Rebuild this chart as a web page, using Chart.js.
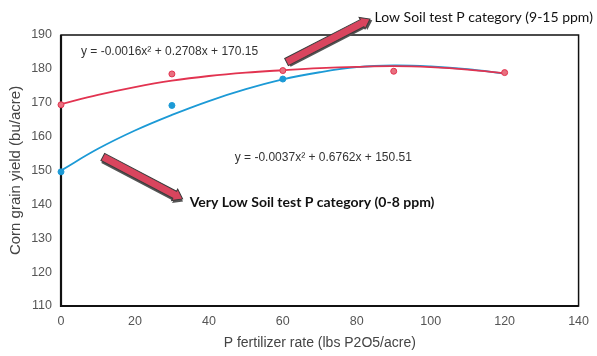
<!DOCTYPE html>
<html><head><meta charset="utf-8">
<script src="https://cdn.jsdelivr.net/npm/chart.js@4/dist/chart.umd.min.js"></script>
<style>html,body{margin:0;padding:0;background:#fff}#wrap{width:597px;height:356px}</style>
</head><body><div id="wrap"><canvas id="c" width="597" height="356"></canvas></div>
<script>
const pointRates = [0, 30, 60, 90, 120];
const lowPoints = [169.4, 178.5, 179.5, 179.3, 178.9];
const veryLowRates = [0, 30, 60];
const veryLowPoints = [149.6, 169.2, 177.0];
const trendRates = [0, 10, 20, 30, 40, 50, 60, 70, 80, 90, 100, 110, 120];
const lowTrend = [169.6, 172.3, 174.6, 176.5, 177.9, 178.9, 179.6, 180.2, 180.6, 180.8, 180.5, 179.8, 178.7];
const veryLowTrend = [150.0, 156.4, 161.8, 166.4, 170.5, 174.0, 176.9, 179.0, 180.5, 181.0, 180.7, 179.9, 178.6];
const xTicks = [0, 20, 40, 60, 80, 100, 120, 140];
const yTicks = [110, 120, 130, 140, 150, 160, 170, 180, 190];
const eqLow = 'y = -0.0016x² + 0.2708x + 170.15';
const eqVeryLow = 'y = -0.0037x² + 0.6762x + 150.51';
const labelLow = 'Low Soil test P category (9-15 ppm)';
const labelVeryLow = 'Very Low Soil test P category (0-8 ppm)';

const RED = '#e23350', RED_PT = '#e8707f', BLUE = '#1c9ad6';
const pts = (xs, ys) => xs.map((x, i) => ({x, y: ys[i]}));

function drawArrow(ctx, x1, y1, x2, y2) {
  const ang = Math.atan2(y2 - y1, x2 - x1);
  const len = Math.hypot(x2 - x1, y2 - y1);
  const sw = 4, hw = 6.5, hl = 9;
  ctx.save();
  ctx.translate(x1, y1); ctx.rotate(ang);
  const path = () => {
    ctx.beginPath();
    ctx.moveTo(0, -sw); ctx.lineTo(len - hl, -sw); ctx.lineTo(len - hl, -hw);
    ctx.lineTo(len, 0); ctx.lineTo(len - hl, hw); ctx.lineTo(len - hl, sw);
    ctx.lineTo(0, sw); ctx.closePath();
  };
  ctx.save(); ctx.translate(1.5, 2); path(); ctx.fillStyle = '#555'; ctx.fill(); ctx.restore();
  path(); ctx.fillStyle = '#d9455e'; ctx.fill();
  ctx.lineWidth = 1; ctx.strokeStyle = '#3b3b3b'; ctx.stroke();
  ctx.restore();
}

const overlay = {
  id: 'overlay',
  beforeDatasetsDraw(chart) {
    const {ctx, chartArea: a} = chart;
    ctx.save();
    ctx.strokeStyle = '#111';
    ctx.lineWidth = 1.5;
    ctx.strokeRect(a.left, a.top, a.right - a.left, a.bottom - a.top);
    ctx.lineWidth = 2.2;
    ctx.beginPath(); ctx.moveTo(a.left, a.top); ctx.lineTo(a.left, a.bottom); ctx.lineTo(a.right, a.bottom); ctx.stroke();
    ctx.restore();
  },
  afterDraw(chart) {
    const {ctx, scales: {x, y}} = chart;
    ctx.save();
    ctx.fillStyle = '#333';
    ctx.font = '12px "Liberation Sans", Arial, sans-serif';
    ctx.textBaseline = 'middle'; ctx.textAlign = 'left';
    ctx.fillText(eqLow, x.getPixelForValue(5.4), y.getPixelForValue(185));
    ctx.fillText(eqVeryLow, x.getPixelForValue(47), y.getPixelForValue(153.7));
    drawArrow(ctx, x.getPixelForValue(61), y.getPixelForValue(182.0), x.getPixelForValue(83.6), y.getPixelForValue(194.7));
    drawArrow(ctx, x.getPixelForValue(11.3), y.getPixelForValue(154.0), x.getPixelForValue(32.9), y.getPixelForValue(141.6));
    ctx.fillStyle = '#111';
    ctx.font = '14px Lato, "Open Sans", sans-serif';
    ctx.fillText(labelLow, x.getPixelForValue(84.8), y.getPixelForValue(195.3));
    ctx.font = 'bold 14px Lato, "Open Sans", sans-serif';
    ctx.fillText(labelVeryLow, x.getPixelForValue(34.8), y.getPixelForValue(140.7));
    ctx.restore();
  }
};

new Chart(document.getElementById('c'), {
  type: 'scatter',
  data: {
    datasets: [
      {data: pts(pointRates, lowPoints), backgroundColor: RED_PT, borderColor: RED, borderWidth: 1, pointRadius: 3, clip: false, order: 1},
      {data: pts(veryLowRates, veryLowPoints), backgroundColor: BLUE, borderColor: BLUE, borderWidth: 1, pointRadius: 3, clip: false, order: 2},
      {type: 'line', data: pts(trendRates, lowTrend), borderColor: RED, borderWidth: 1.8, pointRadius: 0, tension: 0.4, fill: false, order: 3},
      {type: 'line', data: pts(trendRates, veryLowTrend), borderColor: BLUE, borderWidth: 1.8, pointRadius: 0, tension: 0.4, fill: false, order: 4}
    ]
  },
  options: {
    responsive: false, animation: false, devicePixelRatio: 1,
    layout: {padding: {top: 35, right: 17, left: 0, bottom: 0}},
    plugins: {legend: {display: false}, tooltip: {enabled: false}},
    scales: {
      x: {
        type: 'linear', min: 0, max: 140,
        afterBuildTicks: s => { s.ticks = xTicks.map(v => ({value: v})); },
        grid: {display: false, drawTicks: false},
        border: {display: false},
        ticks: {color: '#555', font: {family: '"Liberation Sans", Arial', size: 12.5}, padding: 8},
        title: {display: true, text: 'P fertilizer rate (lbs P2O5/acre)', color: '#444', font: {family: '"Liberation Sans", Arial', size: 14}, padding: {top: 5}},
        afterFit: s => { s.height = 50; }
      },
      y: {
        type: 'linear', min: 110, max: 190,
        afterBuildTicks: s => { s.ticks = yTicks.map(v => ({value: v})); },
        grid: {display: false, drawTicks: false},
        border: {display: false},
        ticks: {color: '#555', font: {family: '"Liberation Sans", Arial', size: 12.5}, padding: 9},
        title: {display: true, text: 'Corn grain yield (bu/acre)', color: '#444', font: {family: '"Liberation Sans", Arial', size: 15}, padding: {top: 7, bottom: 0}},
        afterFit: s => { s.width = 61; }
      }
    }
  },
  plugins: [overlay]
});
</script>
</body></html>
